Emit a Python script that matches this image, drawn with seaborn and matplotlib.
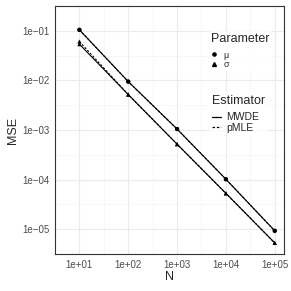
import numpy as np
import pandas as pd
import seaborn as sns
import matplotlib.pyplot as plt
from matplotlib.lines import Line2D

# values
N = [10, 100, 1000, 10000, 100000]
mu_mwde = [0.105, 0.0095, 0.00105, 0.000102, 0.0000093]
mu_pmle = [0.105, 0.0095, 0.00105, 0.000102, 0.0000093]
sigma_mwde = [0.054, 0.0052, 0.00052, 0.000053, 0.0000053]
sigma_pmle = [0.061, 0.0052, 0.00052, 0.000053, 0.0000053]

xticks = [1e1, 1e2, 1e3, 1e4, 1e5]
xlabels = ["1e+01", "1e+02", "1e+03", "1e+04", "1e+05"]
yticks = [1e-1, 1e-2, 1e-3, 1e-4, 1e-5]
ylabels = ["1e\u221201", "1e\u221202", "1e\u221203", "1e\u221204", "1e\u221205"]

df = pd.concat([
    pd.DataFrame({"N": N, "MSE": mu_mwde, "Parameter": "μ", "Estimator": "MWDE"}),
    pd.DataFrame({"N": N, "MSE": mu_pmle, "Parameter": "μ", "Estimator": "pMLE"}),
    pd.DataFrame({"N": N, "MSE": sigma_mwde, "Parameter": "σ", "Estimator": "MWDE"}),
    pd.DataFrame({"N": N, "MSE": sigma_pmle, "Parameter": "σ", "Estimator": "pMLE"}),
])
df["grp"] = df["Parameter"] + df["Estimator"]

sns.set_style("white")
plt.rcParams["font.family"] = ["Liberation Sans", "DejaVu Sans"]

fig = plt.figure(figsize=(2.91, 2.91), dpi=100)
ax = fig.add_axes([0.189, 0.127, 0.787, 0.852])

sns.lineplot(data=df, x="N", y="MSE", style="Estimator", units="grp", estimator=None,
             dashes={"MWDE": "", "pMLE": (2, 1.5)}, color="black", lw=0.8,
             ax=ax, legend=False)
sns.scatterplot(data=df, x="N", y="MSE", style="Parameter", markers={"μ": "o", "σ": "^"},
                color="black", s=9, linewidth=0, ax=ax, legend=False)

ax.set_xscale("log")
ax.set_yscale("log")
ax.set_xlim(10 ** 0.79, 10 ** 5.19)
ax.set_ylim(10 ** -5.47, 10 ** -0.79)

ax.set_xticks(xticks)
ax.set_xticklabels(xlabels)
ax.set_yticks(yticks)
ax.set_yticklabels(ylabels)
ax.set_xticks([10 ** (k + 0.5) for k in range(0, 5)], minor=True)
ax.set_yticks([10 ** -(k + 0.5) for k in range(0, 6)], minor=True)
ax.tick_params(which="minor", length=0, labelleft=False, labelbottom=False)
ax.tick_params(which="major", length=2.5, width=0.6, color="#333333",
               labelsize=7, labelcolor="#4d4d4d", pad=1.5)
ax.grid(which="major", color="#ebebeb", lw=0.8)
ax.grid(which="minor", color="#f4f4f4", lw=0.5)
ax.set_axisbelow(True)
for s in ax.spines.values():
    s.set_color("#333333")
    s.set_linewidth(0.8)

ax.set_xlabel("N", fontsize=9, labelpad=1)
ax.set_ylabel("MSE", fontsize=9, labelpad=2)

h1 = [Line2D([], [], marker="o", ls="", color="black", ms=2.3),
      Line2D([], [], marker="^", ls="", color="black", ms=2.8)]
leg1 = ax.legend(h1, ["μ", "σ"], title="Parameter", loc="upper left",
                 bbox_to_anchor=(0.653, 0.919), frameon=True, fontsize=6.5,
                 title_fontsize=9, handlelength=0.6, handletextpad=0.75,
                 labelspacing=0.05, borderpad=0.25)
leg1._legend_box.align = "left"
leg1._legend_box.sep = 4
leg1.get_frame().set_facecolor("white")
leg1.get_frame().set_edgecolor("none")
ax.add_artist(leg1)

h2 = [Line2D([], [], color="black", lw=0.9),
      Line2D([], [], color="black", lw=0.9, dashes=(2, 1.5))]
leg2 = ax.legend(h2, ["MWDE", "pMLE"], title="Estimator", loc="upper left",
                 bbox_to_anchor=(0.653, 0.674), frameon=True, fontsize=7.5,
                 title_fontsize=9, handlelength=0.8, handletextpad=0.55,
                 labelspacing=0.05, borderpad=0.25)
leg2._legend_box.align = "left"
leg2._legend_box.sep = 4
leg2.get_frame().set_facecolor("white")
leg2.get_frame().set_edgecolor("none")

fig.savefig("out.png", dpi=100)
